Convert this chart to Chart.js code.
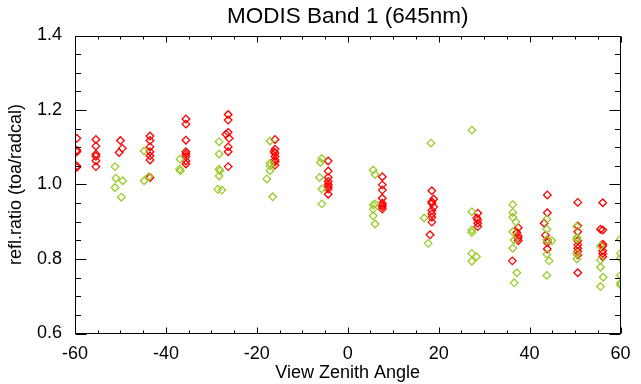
<!DOCTYPE html>
<html>
<head>
<meta charset="utf-8">
<script src="https://cdn.jsdelivr.net/npm/chart.js@4"></script>
<style>
  html, body { margin: 0; padding: 0; background: #fff; }
</style>
</head>
<body>
<canvas id="modisChart" width="641" height="384"></canvas>
<script>
// view zenith angle (deg) and reflectance ratio, one pair per point
const redAngle = [
  -59.6, -59.6, -59.6, -59.6, -59.6,
  -55.4, -55.4, -55.4, -55.4, -55.4, -55.4,
  -50.0, -49.6, -50.3,
  -43.5, -43.5, -43.5, -43.5, -43.5, -43.5, -43.5,
  -35.6, -35.6, -35.6, -35.6, -35.6, -35.6, -35.6, -35.6,
  -26.3, -26.3, -26.3, -26.8, -26.1, -26.3, -26.3, -26.3,
  -16.0, -16.0, -16.0, -16.0, -16.0, -16.0, -16.0, -16.2,
  -4.3, -4.3, -4.3, -4.3, -4.3, -4.3, -4.3, -4.3,
  7.6, 7.6, 7.6, 7.6, 7.6, 7.6, 7.6, 7.6,
  18.5, 18.9, 18.5, 18.5, 18.9, 18.5, 18.5, 18.5, 18.5, 18.1,
  28.6, 28.6, 28.6, 28.6, 28.4,
  37.5, 37.2, 37.5, 37.5, 37.5, 36.2,
  43.9, 43.9, 43.2, 43.5, 43.9, 43.9, 43.9,
  50.6, 50.6, 50.6, 50.6, 50.6, 50.6, 50.6, 50.6, 50.6,
  56.1, 55.6, 56.1, 56.1, 56.1, 56.1, 56.1, 56.1
];
const redRatio = [
  1.124, 1.092, 1.088, 1.050, 1.046,
  1.121, 1.103, 1.081, 1.076, 1.064, 1.048,
  1.118, 1.097, 1.086,
  1.130, 1.118, 1.101, 1.088, 1.077, 1.066, 1.019,
  1.176, 1.162, 1.119, 1.088, 1.082, 1.075, 1.063, 1.055,
  1.188, 1.173, 1.140, 1.135, 1.124, 1.101, 1.088, 1.048,
  1.121, 1.095, 1.084, 1.075, 1.066, 1.061, 1.052, 1.088,
  1.063, 1.036, 1.019, 1.008, 1.000, 0.994, 0.988, 0.974,
  1.021, 0.999, 0.985, 0.963, 0.950, 0.940, 0.934, 0.945,
  0.983, 0.961, 0.954, 0.950, 0.940, 0.930, 0.921, 0.912, 0.899, 0.865,
  0.923, 0.905, 0.896, 0.887, 0.910,
  0.884, 0.871, 0.862, 0.856, 0.849, 0.795,
  0.972, 0.924, 0.896, 0.864, 0.851, 0.844, 0.827,
  0.952, 0.889, 0.873, 0.849, 0.838, 0.829, 0.820, 0.811, 0.763,
  0.951, 0.880, 0.878, 0.840, 0.835, 0.822, 0.815, 0.806
];
const greenAngle = [
  -51.2, -51.0, -49.5, -51.2, -49.8,
  -44.8, -44.8, -43.8,
  -36.9, -37.0, -36.8,
  -28.3, -28.3, -28.3, -28.1, -28.3, -28.6, -27.7,
  -17.1, -17.1, -17.1, -17.1, -17.8, -16.5,
  -5.7, -6.0, -6.2, -5.7, -5.7,
  5.6, 6.0, 5.6, 6.0, 5.6, 5.6, 6.0,
  18.3, 16.8, 17.7,
  27.3, 27.3, 27.3, 27.3, 27.3, 28.3, 27.3,
  36.3, 36.3, 36.3, 37.0, 36.3, 36.6, 36.3, 37.2, 36.6,
  43.8, 43.8, 43.8, 44.9, 43.8, 44.3, 43.8,
  50.4, 50.4, 50.4, 50.4, 50.4,
  55.6, 55.6, 55.6, 56.2, 55.6,
  60.0, 60.0, 60.0, 60.0, 60.0, 60.0
];
const greenRatio = [
  1.048, 1.017, 1.010, 0.992, 0.966,
  1.090, 1.010, 1.021,
  1.068, 1.041, 1.037,
  1.115, 1.082, 1.041, 1.037, 1.023, 0.987, 0.985,
  1.117, 1.057, 1.050, 1.037, 1.015, 0.967,
  1.070, 1.059, 1.019, 0.988, 0.948,
  1.039, 1.027, 0.945, 0.948, 0.934, 0.916, 0.894,
  1.111, 0.910, 0.842,
  1.146, 0.927, 0.878, 0.871, 0.815, 0.806, 0.794,
  0.946, 0.925, 0.912, 0.899, 0.873, 0.851, 0.829, 0.763, 0.736,
  0.907, 0.880, 0.851, 0.849, 0.813, 0.795, 0.756,
  0.887, 0.858, 0.854, 0.815, 0.800,
  0.835, 0.797, 0.778, 0.751, 0.726,
  0.854, 0.815, 0.802, 0.756, 0.735, 0.730
];

const xTicks = [-60, -40, -20, 0, 20, 40, 60];
const yTicks = [0.6, 0.8, 1.0, 1.2, 1.4];
const chartTitle = 'MODIS Band 1 (645nm)';

const toPoints = (xs, ys) => xs.map((x, i) => ({ x: x, y: ys[i] }));
const FONT = 'Liberation Sans, Arial, Helvetica, sans-serif';

// IDL-style frame with inward major/minor ticks on all four sides,
// plus the title centred over the plot box (not the canvas)
const frameTicks = {
  id: 'frameTicks',
  afterDatasetsDraw(chart) {
    const { ctx, chartArea: a, scales: { x, y } } = chart;
    const L = Math.round(a.left) + 0.5, R = Math.round(a.right) - 0.5;
    const T = Math.round(a.top) + 0.5, B = Math.round(a.bottom) - 0.5;
    ctx.save();
    ctx.strokeStyle = '#000';
    ctx.lineWidth = 1;
    ctx.beginPath();
    ctx.rect(L, T, R - L, B - T);
    for (let v = xTicks[0]; v <= xTicks[xTicks.length - 1]; v += 5) {
      const px = Math.round(x.getPixelForValue(v)) + 0.5;
      const len = v % 20 === 0 ? 6 : 3;
      ctx.moveTo(px, B); ctx.lineTo(px, B - len);
      ctx.moveTo(px, T); ctx.lineTo(px, T + len);
    }
    for (let i = 0; i <= 16; i++) {
      const py = Math.round(y.getPixelForValue(0.6 + i * 0.05)) + 0.5;
      const len = i % 4 === 0 ? 11 : 5.5;
      ctx.moveTo(L, py); ctx.lineTo(L + len, py);
      ctx.moveTo(R, py); ctx.lineTo(R - len, py);
    }
    ctx.stroke();

    ctx.fillStyle = '#000';
    ctx.font = '22.5px ' + FONT;
    ctx.textAlign = 'center';
    ctx.textBaseline = 'middle';
    ctx.fillText(chartTitle, (a.left + a.right) / 2, 17);
    ctx.restore();
  }
};

const ctx = document.getElementById('modisChart').getContext('2d');
new Chart(ctx, {
  type: 'scatter',
  data: {
    datasets: [
      {
        label: 'green',
        data: toPoints(greenAngle, greenRatio),
        pointStyle: 'rectRot',
        pointRadius: 3.8,
        pointBorderWidth: 1.3,
        borderColor: '#99cc2a',
        backgroundColor: 'rgba(0,0,0,0)'
      },
      {
        label: 'red',
        data: toPoints(redAngle, redRatio),
        pointStyle: 'rectRot',
        pointRadius: 3.8,
        pointBorderWidth: 1.3,
        borderColor: '#ff0000',
        backgroundColor: 'rgba(0,0,0,0)'
      }
    ]
  },
  options: {
    responsive: false,
    animation: false,
    layout: { padding: { left: 0, right: 20.5, top: 35.5, bottom: 0 } },
    plugins: {
      legend: { display: false },
      tooltip: { enabled: false },
      title: { display: false }
    },
    scales: {
      x: {
        type: 'linear',
        min: -60,
        max: 60,
        afterBuildTicks: (s) => { s.ticks = xTicks.map(v => ({ value: v })); },
        afterFit: (s) => { s.height = 50.5; },
        grid: { display: false },
        border: { display: false },
        ticks: {
          color: '#000',
          padding: 2,
          maxRotation: 0,
          font: { family: FONT, size: 18 },
          callback: (v) => String(v)
        },
        title: {
          display: true,
          text: 'View Zenith Angle',
          color: '#000',
          font: { family: FONT, size: 18 },
          padding: { top: 0, bottom: 0 }
        }
      },
      y: {
        type: 'linear',
        min: 0.6,
        max: 1.4,
        afterBuildTicks: (s) => { s.ticks = yTicks.map(v => ({ value: v })); },
        afterFit: (s) => { s.width = 75; },
        grid: { display: false },
        border: { display: false },
        ticks: {
          color: '#000',
          padding: 5,
          font: { family: FONT, size: 18 },
          callback: (v) => Number(v).toFixed(1)
        },
        title: {
          display: true,
          text: 'refl.ratio (toa/radcal)',
          color: '#000',
          font: { family: FONT, size: 18 },
          padding: { top: 5, bottom: 0 }
        }
      }
    }
  },
  plugins: [frameTicks]
});
</script>
</body>
</html>
